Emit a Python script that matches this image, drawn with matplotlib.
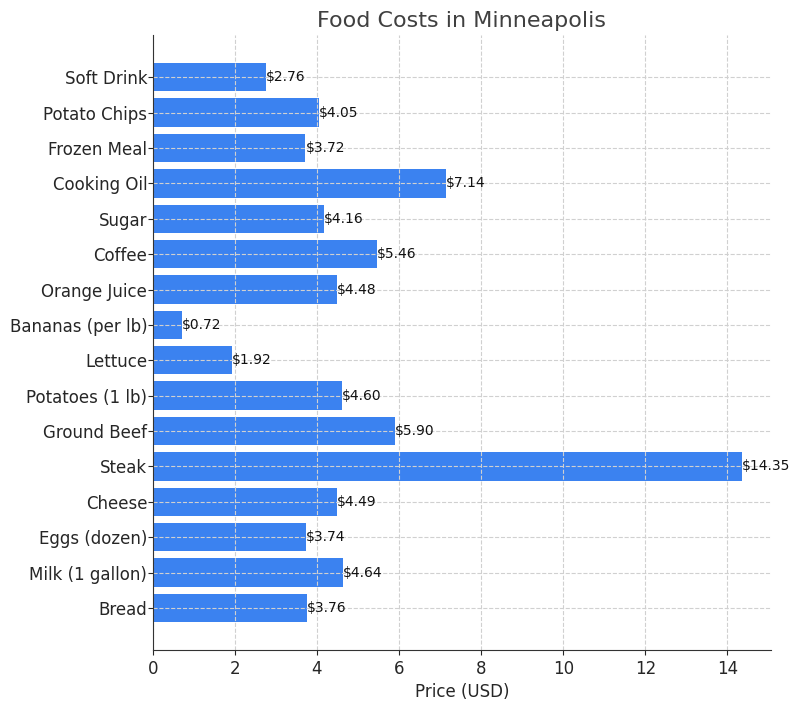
import matplotlib
matplotlib.use("Agg")
import matplotlib.pyplot as plt

# datos del grafico (de abajo hacia arriba)
items = ['Bread', 'Milk (1 gallon)', 'Eggs (dozen)', 'Cheese', 'Steak', 'Ground Beef',
         'Potatoes (1 lb)', 'Lettuce', 'Bananas (per lb)', 'Orange Juice', 'Coffee',
         'Sugar', 'Cooking Oil', 'Frozen Meal', 'Potato Chips', 'Soft Drink']
prices = [3.76, 4.64, 3.74, 4.49, 14.35, 5.90, 4.60, 1.92, 0.72, 4.48, 5.46,
          4.16, 7.14, 3.72, 4.05, 2.76]

fig = plt.figure(figsize=(8, 7.03), dpi=100)
ax = fig.add_axes([0.191, 0.0754, 0.773, 0.8746])

bars = ax.barh(items, prices, color='#3b82f0')
for b, p in zip(bars, prices):
    ax.text(b.get_width(), b.get_y() + b.get_height() / 2, '${:.2f}'.format(p),
            va='center', ha='left', fontsize=10, color='#111111')

ax.set_title('Food Costs in Minneapolis', fontsize=16, color='#404040')
ax.set_xlabel('Price (USD)', fontsize=12, color='#262626')
ax.grid(True, linestyle='--', color='#d0d0d0', linewidth=0.8)
ax.spines['top'].set_visible(False)
ax.spines['right'].set_visible(False)
for s in ['left', 'bottom']:
    ax.spines[s].set_color('#333333')
ax.tick_params(labelsize=12, colors='#262626')
ax.tick_params(axis='y', pad=0.5)

plt.savefig('out.png')
